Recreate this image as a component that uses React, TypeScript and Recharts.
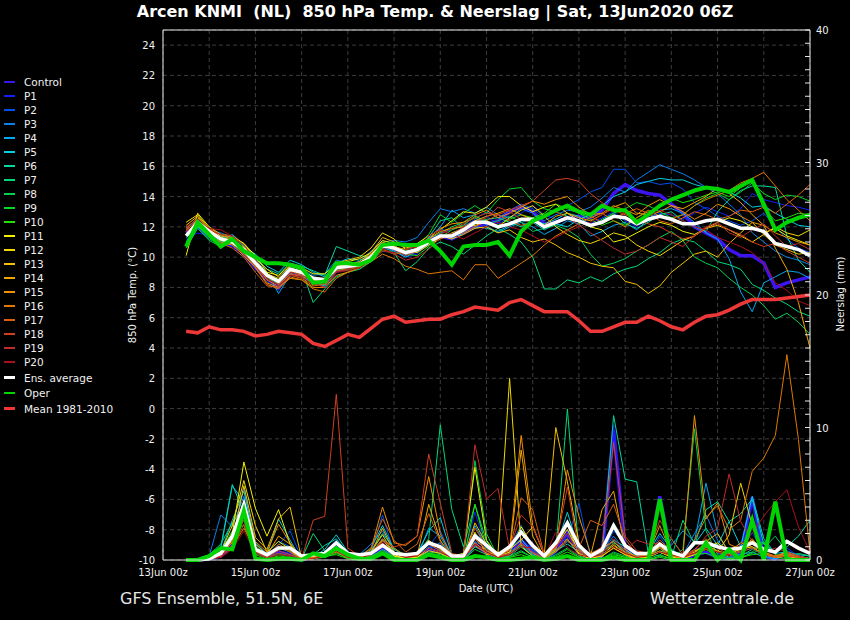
import { CartesianGrid, ComposedChart, Line, ReferenceLine, XAxis, YAxis } from "recharts";

// forecast steps in hours after 13Jun 00z (GFS run 13Jun2020 06Z, 6-hourly)
const HOURS = [
  12, 18, 24, 30, 36, 42, 48, 54, 60, 66, 72, 78, 84, 90, 96, 102, 108, 114, 120, 126,
  132, 138, 144, 150, 156, 162, 168, 174, 180, 186, 192, 198, 204, 210, 216, 222, 228, 234, 240, 246,
  252, 258, 264, 270, 276, 282, 288, 294, 300, 306, 312, 318, 324, 330, 336,
];
const X_TICKS = [0, 24, 48, 72, 96, 120, 144, 168, 192, 216, 240, 264, 288, 312, 336];
const DATE_LABELS = ["13Jun 00z", "15Jun 00z", "17Jun 00z", "19Jun 00z", "21Jun 00z", "23Jun 00z", "25Jun 00z", "27Jun 00z"];
const TEMP_TICKS = [-10, -8, -6, -4, -2, 0, 2, 4, 6, 8, 10, 12, 14, 16, 18, 20, 22, 24];
const RAIN_TICKS = [
  0, 1, 2, 3, 4, 5, 6, 7, 8, 9, 10, 11, 12, 13, 14, 15, 16, 17, 18, 19, 20,
  21, 22, 23, 24, 25, 26, 27, 28, 29, 30, 31, 32, 33, 34, 35, 36, 37, 38, 39, 40,
];

// 850 hPa temperature (°C)
const T_CONTROL = [11.6, 12.0, 11.4, 11.0, 10.8, 10.3, 9.3, 8.6, 8.0, 8.9, 8.8, 8.4, 8.1, 9.1, 9.3, 9.5, 10.0, 10.7, 10.5, 10.2, 10.4, 11.2, 11.4, 11.2, 11.6, 12.0, 12.2, 12.4, 13.0, 13.3, 13.0, 12.2, 12.3, 12.6, 12.7, 12.6, 13.1, 14.2, 14.8, 14.4, 14.2, 14.1, 13.5, 12.9, 12.0, 11.6, 11.2, 10.5, 10.1, 10.1, 9.6, 8.0, 8.3, 8.5, 8.7];
const T_P1 = [11.2, 11.6, 11.4, 10.9, 10.7, 10.0, 9.2, 8.4, 7.8, 8.9, 8.8, 8.3, 8.2, 9.0, 9.2, 9.4, 9.8, 10.6, 10.4, 10.0, 10.2, 10.9, 11.6, 11.8, 12.1, 12.4, 12.7, 12.2, 12.6, 12.9, 13.4, 12.8, 12.5, 12.9, 12.6, 12.2, 12.6, 13.0, 12.4, 12.0, 12.6, 12.9, 12.8, 12.5, 12.9, 13.3, 13.0, 12.7, 13.2, 14.2, 13.8, 13.6, 13.4, 13.3, 13.1];
const T_P2 = [11.6, 12.0, 11.5, 11.3, 11.2, 10.6, 9.5, 8.6, 8.2, 9.0, 8.9, 8.5, 8.3, 9.2, 9.3, 9.6, 10.1, 10.9, 10.5, 10.1, 10.6, 11.3, 11.9, 11.5, 12.0, 12.5, 13.0, 12.6, 13.1, 13.5, 13.2, 12.6, 13.0, 13.4, 13.8, 14.3, 14.6, 15.8, 15.8, 14.9, 15.0, 14.8, 14.9, 14.5, 13.6, 13.2, 12.7, 12.4, 12.1, 12.4, 12.9, 12.0, 11.2, 10.6, 10.3];
const T_P3 = [11.9, 12.5, 11.8, 11.6, 11.3, 10.9, 9.9, 8.9, 8.5, 9.4, 9.2, 8.8, 8.9, 9.8, 9.6, 9.7, 10.4, 11.0, 11.1, 11.0, 11.3, 12.3, 13.2, 13.0, 13.2, 12.9, 13.3, 12.8, 12.6, 13.2, 12.9, 12.4, 12.8, 13.1, 13.0, 13.3, 13.9, 14.6, 14.3, 15.1, 15.6, 16.1, 15.8, 15.5, 15.1, 14.6, 14.2, 13.5, 12.8, 11.6, 11.0, 10.4, 10.0, 9.8, 9.5];
const T_P4 = [11.5, 12.2, 11.6, 11.0, 11.5, 10.8, 9.8, 9.0, 7.6, 8.8, 8.7, 8.3, 8.1, 9.4, 9.5, 9.6, 10.2, 10.9, 10.7, 10.4, 10.6, 11.2, 12.0, 13.1, 12.6, 12.8, 12.1, 11.6, 12.0, 12.3, 12.0, 11.5, 11.9, 12.4, 12.2, 11.4, 11.7, 12.1, 12.3, 11.8, 12.5, 13.1, 13.2, 12.9, 12.3, 11.6, 11.2, 9.9, 7.7, 6.4, 8.3, 8.7, 9.1, 9.0, 8.6];
const T_P5 = [11.3, 12.0, 11.7, 11.4, 11.1, 10.7, 10.2, 9.4, 9.0, 9.8, 9.5, 9.0, 8.7, 9.6, 9.9, 9.8, 10.1, 10.8, 10.4, 10.0, 10.4, 10.8, 11.5, 11.2, 11.6, 12.0, 11.9, 11.7, 12.1, 12.4, 12.3, 11.8, 12.2, 12.0, 12.5, 12.8, 13.4, 14.0, 14.3, 14.8, 15.0, 15.2, 15.1, 15.1, 14.8, 14.6, 14.4, 14.3, 13.9, 13.3, 13.4, 12.9, 12.5, 12.1, 12.0];
const T_P6 = [11.0, 12.1, 11.6, 11.3, 11.2, 10.8, 10.0, 9.2, 8.9, 9.6, 9.4, 9.1, 8.8, 10.7, 10.4, 10.1, 10.0, 10.6, 10.8, 10.2, 10.6, 11.3, 12.4, 12.6, 11.9, 12.2, 12.5, 12.6, 12.3, 12.0, 12.4, 12.2, 12.5, 12.9, 12.7, 12.0, 12.5, 12.9, 12.2, 11.9, 12.3, 12.8, 13.0, 12.4, 12.0, 11.7, 13.0, 13.8, 14.4, 14.7, 14.7, 14.6, 11.4, 9.8, 9.0];
const T_P7 = [10.8, 12.0, 11.2, 10.8, 10.9, 10.2, 9.6, 8.8, 8.2, 8.9, 9.2, 7.0, 7.9, 8.7, 9.0, 9.2, 9.7, 10.4, 10.3, 9.1, 9.7, 10.6, 11.0, 10.7, 10.2, 10.8, 11.4, 11.9, 11.5, 11.0, 10.0, 7.9, 7.9, 8.5, 8.3, 8.7, 8.4, 8.9, 9.2, 9.4, 9.9, 10.3, 10.9, 11.2, 11.0, 10.4, 9.7, 9.5, 9.2, 8.2, 7.8, 7.3, 6.9, 6.4, 6.1];
const T_P8 = [10.6, 11.9, 11.1, 10.7, 11.0, 10.4, 9.7, 8.7, 8.4, 9.2, 9.0, 8.4, 8.1, 9.1, 9.3, 9.5, 10.0, 10.7, 10.3, 10.4, 10.3, 11.2, 11.6, 12.0, 12.3, 12.6, 12.2, 12.4, 12.7, 12.3, 11.7, 11.9, 12.1, 11.8, 11.3, 10.2, 9.4, 9.6, 9.9, 10.4, 10.8, 11.3, 11.7, 11.1, 10.0, 9.6, 9.3, 8.6, 8.0, 7.5, 6.8, 5.9, 6.3, 5.7, 4.9];
const T_P9 = [10.9, 12.2, 11.5, 10.9, 11.2, 10.6, 9.7, 8.9, 8.5, 9.3, 9.1, 8.7, 8.4, 9.2, 9.5, 9.6, 10.1, 10.9, 10.6, 10.5, 10.8, 11.5, 12.8, 12.3, 12.9, 13.4, 12.9, 13.8, 14.5, 14.6, 13.7, 13.2, 13.0, 12.7, 12.3, 12.0, 12.4, 12.9, 13.2, 13.6, 13.4, 13.0, 12.6, 12.8, 13.4, 13.9, 14.2, 13.8, 14.3, 14.9, 14.2, 13.8, 14.1, 14.0, 13.7];
const T_P10 = [10.7, 12.1, 11.3, 11.1, 10.8, 10.3, 9.4, 8.6, 8.3, 9.1, 8.9, 8.5, 8.3, 9.3, 9.1, 9.4, 9.9, 10.6, 10.8, 10.2, 10.1, 10.7, 11.3, 11.8, 12.1, 12.7, 12.4, 12.1, 12.5, 12.8, 12.6, 12.9, 13.5, 13.2, 12.9, 12.5, 12.1, 12.4, 12.1, 12.6, 13.0, 13.3, 13.9, 13.6, 13.8, 14.1, 14.3, 14.0, 14.6, 15.0, 13.2, 12.4, 12.6, 12.9, 12.8];
const T_P11 = [10.1, 12.9, 12.0, 11.5, 11.4, 10.9, 10.1, 9.0, 8.8, 9.5, 9.3, 8.9, 8.9, 9.5, 9.7, 9.9, 10.3, 11.1, 10.9, 10.7, 10.9, 11.4, 11.8, 12.4, 13.0, 12.9, 13.3, 14.0, 14.0, 13.4, 13.0, 13.3, 13.5, 12.9, 12.4, 12.0, 11.8, 11.0, 11.2, 11.6, 12.0, 12.3, 12.1, 11.7, 11.5, 11.9, 12.3, 12.6, 12.4, 12.0, 11.6, 11.9, 11.4, 11.1, 10.8];
const T_P12 = [12.3, 12.8, 11.9, 11.4, 11.3, 10.9, 9.9, 9.2, 8.7, 9.4, 9.2, 8.6, 8.6, 9.6, 9.8, 10.0, 10.6, 11.6, 11.2, 10.5, 10.3, 10.8, 11.2, 11.6, 11.9, 12.1, 12.3, 12.0, 12.6, 13.1, 13.4, 12.7, 12.0, 11.5, 11.1, 10.9, 11.2, 11.6, 11.4, 10.8, 10.4, 10.1, 10.6, 11.1, 11.4, 11.9, 12.1, 11.8, 11.4, 11.0, 11.5, 12.0, 11.6, 11.4, 11.8];
const T_P13 = [12.1, 12.7, 11.8, 11.3, 11.1, 10.7, 9.8, 8.9, 8.6, 9.1, 8.8, 8.4, 8.6, 9.4, 9.5, 9.7, 10.3, 11.3, 11.0, 10.6, 10.8, 11.1, 11.4, 11.2, 11.5, 11.9, 12.0, 11.6, 11.8, 11.3, 11.0, 11.2, 10.8, 10.3, 10.0, 9.6, 9.4, 9.3, 8.4, 8.2, 7.6, 8.1, 9.0, 9.6, 10.2, 10.4, 10.0, 10.9, 11.6, 12.3, 11.5, 10.8, 10.5, 10.2, 10.3];
const T_P14 = [11.8, 12.4, 11.6, 11.2, 11.0, 10.4, 9.5, 8.5, 8.1, 8.9, 8.7, 8.2, 8.3, 9.3, 9.4, 9.6, 10.2, 11.0, 10.7, 10.5, 10.7, 11.2, 11.7, 11.9, 12.0, 12.4, 12.7, 12.9, 13.2, 12.8, 12.5, 12.1, 12.7, 12.9, 12.6, 12.4, 12.8, 13.3, 13.6, 12.9, 12.8, 13.0, 13.4, 13.2, 13.6, 14.0, 14.6, 14.2, 13.6, 12.8, 12.1, 10.6, 9.2, 7.0, 4.0];
const T_P15 = [11.7, 12.5, 11.4, 11.0, 10.8, 10.1, 9.3, 8.3, 8.0, 8.6, 8.5, 8.0, 8.0, 8.8, 9.0, 9.3, 9.9, 10.7, 10.6, 10.3, 10.6, 11.2, 11.9, 12.2, 12.3, 12.8, 13.1, 12.6, 12.9, 13.3, 13.7, 13.5, 13.8, 14.0, 13.3, 12.8, 12.9, 13.4, 13.1, 12.8, 13.4, 13.8, 13.4, 13.0, 12.5, 12.9, 13.5, 13.2, 12.7, 12.3, 12.1, 11.6, 11.3, 11.0, 10.8];
const T_P16 = [11.9, 12.6, 11.9, 11.5, 11.1, 10.3, 9.3, 8.2, 7.9, 8.7, 8.5, 7.9, 7.7, 8.6, 9.0, 9.3, 9.7, 10.2, 9.9, 9.4, 9.2, 8.9, 9.0, 9.1, 8.5, 9.5, 9.5, 8.6, 9.1, 9.6, 10.1, 10.8, 11.4, 11.8, 12.2, 12.6, 12.9, 12.4, 12.0, 12.6, 13.1, 12.7, 12.5, 12.8, 13.4, 13.8, 14.1, 14.4, 14.9, 15.2, 15.6, 14.7, 13.8, 13.1, 12.4];
const T_P17 = [11.5, 12.3, 11.6, 10.9, 10.6, 10.0, 9.0, 8.1, 8.0, 8.8, 8.6, 8.1, 8.2, 9.1, 9.2, 9.4, 9.8, 10.5, 10.2, 10.3, 10.5, 11.0, 11.2, 11.5, 11.6, 12.0, 12.4, 12.8, 12.4, 12.1, 12.3, 12.6, 13.1, 13.4, 13.0, 12.7, 12.3, 12.6, 12.9, 13.2, 12.9, 12.4, 12.2, 12.6, 13.0, 12.8, 12.5, 12.7, 13.1, 13.0, 13.3, 12.9, 13.5, 14.1, 14.8];
const T_P18 = [11.8, 12.4, 11.9, 11.3, 10.8, 10.2, 9.4, 8.5, 8.2, 8.9, 8.8, 8.4, 8.5, 9.2, 9.3, 9.5, 10.0, 10.7, 10.5, 10.1, 10.4, 11.0, 11.5, 11.9, 12.2, 12.6, 12.9, 12.8, 13.1, 13.4, 13.7, 14.4, 15.1, 15.2, 15.0, 14.2, 13.6, 13.1, 12.8, 12.5, 12.2, 12.0, 11.6, 11.2, 11.4, 11.9, 12.2, 11.8, 11.5, 11.0, 10.7, 10.9, 10.4, 10.0, 9.6];
const T_P19 = [12.0, 12.5, 11.8, 11.5, 11.4, 10.8, 9.8, 8.7, 8.3, 9.0, 8.9, 8.3, 8.0, 9.0, 9.2, 9.4, 9.9, 10.6, 10.2, 9.8, 10.0, 10.5, 11.3, 11.5, 12.0, 12.3, 12.6, 13.3, 13.0, 12.5, 12.2, 12.8, 13.0, 12.6, 12.1, 11.6, 11.1, 10.6, 10.2, 10.4, 10.8, 11.3, 11.0, 10.7, 11.4, 12.0, 12.3, 11.6, 11.3, 11.8, 12.2, 11.4, 10.7, 10.9, 10.5];
const T_P20 = [11.7, 12.2, 11.9, 11.8, 11.4, 10.6, 9.5, 8.6, 8.1, 8.8, 8.7, 8.2, 8.3, 9.0, 9.1, 9.3, 9.8, 10.4, 10.3, 10.5, 10.7, 11.4, 11.8, 11.5, 11.2, 11.6, 12.0, 12.3, 12.0, 11.8, 11.4, 11.0, 11.3, 11.7, 12.0, 12.3, 12.8, 13.2, 12.9, 12.4, 12.7, 13.1, 12.8, 12.4, 12.0, 11.8, 11.3, 11.0, 10.7, 10.3, 9.6, 8.3, 7.8, 7.1, 6.8];
const T_AVERAGE = [11.4, 12.3, 11.7, 11.2, 11.0, 10.5, 9.6, 8.8, 8.4, 9.2, 9.0, 8.6, 8.5, 9.3, 9.4, 9.5, 10.0, 10.8, 10.6, 10.3, 10.5, 11.0, 11.4, 11.4, 11.8, 12.3, 12.3, 12.0, 12.2, 12.5, 12.5, 12.0, 12.3, 12.6, 12.4, 12.1, 12.3, 12.7, 12.6, 12.2, 12.5, 12.7, 12.5, 12.2, 12.2, 12.4, 12.5, 12.2, 11.9, 11.9, 11.7, 10.9, 10.7, 10.5, 10.1];
const T_OPER = [10.7, 12.3, 11.5, 10.7, 11.2, 10.4, 10.0, 9.6, 9.6, 9.5, 9.3, 8.3, 8.4, 9.6, 9.6, 9.5, 9.8, 10.8, 10.9, 10.8, 10.8, 11.1, 10.4, 9.5, 10.7, 10.8, 10.8, 11.0, 10.1, 11.7, 12.4, 12.7, 13.1, 13.4, 13.0, 12.8, 13.4, 13.1, 13.1, 12.3, 12.8, 13.4, 13.8, 14.1, 14.4, 14.6, 14.5, 14.3, 14.7, 15.1, 13.5, 11.8, 12.3, 12.6, 12.8];
const T_MEAN_8110 = [5.1, 5.0, 5.4, 5.2, 5.2, 5.1, 4.8, 4.9, 5.1, 5.0, 4.9, 4.3, 4.1, 4.5, 4.9, 4.7, 5.3, 5.9, 6.1, 5.7, 5.8, 5.9, 5.9, 6.2, 6.4, 6.7, 6.6, 6.5, 7.0, 7.2, 6.8, 6.4, 6.4, 6.4, 5.8, 5.1, 5.1, 5.4, 5.7, 5.7, 6.1, 5.8, 5.4, 5.2, 5.7, 6.1, 6.2, 6.5, 6.9, 7.2, 7.2, 7.2, 7.3, 7.4, 7.5];

// precipitation per 6h (mm), right axis
const R_CONTROL = [0, 0, 0.1, 0.3, 1.2, 3.9, 0.6, 0.2, 0.6, 0.4, 0, 0.2, 0.4, 0.8, 0.3, 0.2, 0.3, 0.9, 0.2, 0.1, 0.2, 0.8, 0.6, 0.1, 0, 1.2, 0.5, 0.1, 0.4, 1.5, 0.6, 0, 0.8, 2.0, 0.7, 0, 0.3, 9.8, 0.9, 0.2, 0.1, 4.8, 0.3, 0, 0.4, 0.6, 0.2, 0.1, 0.5, 4.7, 0.3, 0.1, 0.5, 0.2, 0];
const R_P1 = [0, 0, 0, 0.4, 1.8, 3.2, 0.5, 0.1, 0.7, 0.5, 0, 0.1, 0.3, 1.1, 0.2, 0.1, 0.4, 1.3, 0.3, 0, 0.1, 1.0, 0.8, 0, 0.1, 3.6, 0.8, 0, 0.3, 1.4, 0.2, 0, 0.5, 1.6, 0.3, 0, 0.2, 10.2, 0.6, 0, 0.2, 1.1, 0.2, 0, 0.8, 1.0, 0.3, 0.1, 0.6, 2.1, 0.4, 0, 0.9, 0.3, 0.1];
const R_P2 = [0, 0, 0.2, 0.5, 1.4, 5.5, 0.9, 0.3, 1.1, 2.2, 0.1, 0.2, 0.6, 1.5, 0.4, 0.3, 0.6, 3.4, 0.5, 0.2, 0.3, 1.0, 2.2, 0.3, 0.1, 2.0, 1.3, 0.2, 0.5, 2.3, 0.7, 0.1, 1.2, 1.6, 4.3, 0.2, 0.4, 2.2, 1.2, 0.3, 0.2, 1.8, 0.4, 0.1, 0.6, 1.2, 0.5, 0.2, 0.8, 4.8, 0.5, 0.2, 0.7, 0.3, 0.1];
const R_P3 = [0, 0, 0.3, 3.4, 2.5, 4.8, 1.2, 0.5, 1.4, 1.0, 0, 0.3, 0.5, 1.3, 0.5, 0.4, 1.2, 2.2, 0.6, 0.2, 0.4, 0.9, 1.3, 0.2, 0, 1.4, 0.9, 0.3, 1.0, 2.6, 0.8, 0.2, 1.5, 2.3, 0.5, 0.1, 0.6, 1.8, 0.7, 0.2, 0.5, 0.9, 0.2, 0.4, 2.0, 3.4, 1.5, 0.4, 0.6, 0.9, 0.3, 0.1, 0.4, 0.2, 0.1];
const R_P4 = [0, 0, 0.1, 0.8, 5.6, 4.4, 0.7, 0.2, 0.9, 0.6, 0, 0.1, 0.4, 0.9, 0.2, 0.2, 0.5, 1.6, 0.4, 0.1, 0.2, 2.4, 1.8, 0.2, 0, 2.6, 1.0, 0.2, 0.6, 1.2, 0.4, 0, 0.6, 1.4, 0.9, 0.2, 0.8, 1.4, 0.5, 0.1, 0.3, 0.6, 1.1, 2.2, 1.4, 5.8, 2.0, 0.5, 0.4, 0.6, 0.2, 0.1, 0.3, 0.1, 0];
const R_P5 = [0, 0, 0.2, 0.6, 3.0, 5.2, 1.3, 0.4, 3.1, 1.5, 0, 0.2, 0.8, 1.9, 0.6, 0.3, 0.9, 2.6, 0.8, 0.3, 0.5, 2.2, 3.2, 0.4, 0.1, 2.0, 1.1, 0.4, 0.8, 1.6, 0.5, 0.1, 0.9, 3.6, 0.8, 0.2, 0.5, 1.5, 1.0, 0.3, 0.6, 2.0, 0.8, 0.3, 1.2, 2.4, 1.1, 2.9, 1.0, 4.8, 1.6, 0.5, 0.6, 0.4, 0.3];
const R_P6 = [0, 0, 0.3, 1.0, 5.7, 3.6, 0.8, 0.3, 1.0, 0.7, 0, 0.4, 1.1, 1.6, 0.5, 0.2, 0.7, 2.0, 0.9, 0.3, 0.4, 1.3, 0.9, 0.2, 0, 1.0, 0.6, 0.1, 0.3, 1.0, 0.3, 0, 0.7, 1.2, 0.6, 0.1, 0.4, 10.9, 6.1, 5.9, 0.5, 0.3, 1.6, 0.4, 1.1, 3.8, 4.4, 2.9, 3.5, 4.6, 1.2, 0.6, 1.0, 1.8, 3.0];
const R_P7 = [0, 0.1, 0.4, 1.2, 2.8, 4.0, 1.0, 0.4, 0.8, 0.9, 0.1, 2.0, 0.7, 0.7, 0.2, 0.1, 0.5, 1.2, 0.8, 0.4, 0.5, 1.6, 10.2, 3.8, 1.0, 4.2, 1.4, 0.3, 0.4, 1.1, 0.3, 0.1, 0.8, 11.4, 0.6, 0, 0.2, 1.3, 0.8, 0.2, 0.2, 0.9, 0.2, 3.0, 1.2, 1.5, 0.6, 0.2, 0.3, 0.8, 1.4, 0.4, 0.2, 0.5, 0.3];
const R_P8 = [0, 0, 0.2, 0.7, 2.0, 3.0, 0.5, 0.2, 0.5, 0.3, 0, 0.1, 0.3, 0.6, 0.1, 0, 0.2, 0.8, 0.3, 0.1, 0.2, 0.6, 0.5, 0.1, 0, 7.5, 2.0, 0.2, 0.3, 0.7, 0.2, 0, 0.4, 0.9, 0.3, 0, 0.1, 0.6, 0.3, 0, 0.1, 0.4, 0.1, 0.8, 9.9, 2.2, 0.4, 0.1, 0.2, 0.5, 0.9, 1.8, 0.6, 0.3, 0.1];
const R_P9 = [0, 0, 0.1, 0.5, 1.6, 4.2, 0.6, 0.1, 0.4, 0.3, 0, 0.1, 0.2, 0.5, 0.2, 0.1, 0.3, 0.7, 0.2, 0, 0.1, 0.5, 0.4, 0.1, 0, 0.8, 0.4, 0, 0.2, 0.6, 0.2, 0, 0.3, 0.8, 0.2, 0, 0.1, 0.5, 0.2, 0, 0, 0.2, 0, 0.1, 0.4, 0.5, 0.2, 0, 0.1, 0.6, 1.3, 0.4, 0.2, 0.1, 0];
const R_P10 = [0, 0, 0.2, 0.6, 2.2, 2.6, 0.4, 0.1, 0.3, 0.2, 0, 0.1, 0.3, 0.4, 0.1, 0, 0.2, 0.6, 0.2, 0, 0.1, 0.4, 0.3, 0, 0, 4.2, 0.9, 0.1, 0.2, 0.4, 0.1, 0, 0.2, 0.6, 0.2, 0, 0.1, 0.4, 0.2, 0, 0, 0.3, 0.1, 0.2, 0.5, 0.8, 0.3, 0.1, 0.2, 0.4, 0.5, 0.2, 0.1, 0.1, 0];
const R_P11 = [0, 0, 0.1, 0.5, 2.0, 7.4, 3.9, 1.8, 3.8, 1.2, 0, 0.2, 0.4, 0.9, 0.3, 0.1, 0.4, 1.1, 0.3, 0.1, 0.2, 0.9, 0.6, 0.3, 0.5, 7.0, 1.5, 0.3, 0.6, 2.5, 1.1, 0.2, 1.4, 2.7, 0.4, 0.1, 0.4, 1.1, 0.5, 0.1, 0.2, 0.6, 0.2, 0.1, 0.4, 0.9, 1.3, 0.5, 0.8, 1.0, 0.4, 0.2, 0.3, 0.2, 0.1];
const R_P12 = [0, 0, 0.2, 0.6, 2.6, 6.0, 2.6, 0.6, 1.4, 0.8, 0, 0.1, 0.3, 1.0, 0.2, 0.1, 0.6, 1.9, 0.4, 0.1, 0.2, 0.7, 0.5, 0.1, 0.2, 2.1, 0.4, 0.6, 13.7, 1.0, 0.3, 0.1, 1.0, 2.3, 0.5, 0.1, 0.3, 0.9, 0.4, 0, 0.1, 1.3, 0.5, 0.2, 0.7, 1.0, 0.6, 1.9, 5.8, 2.6, 0.5, 0.2, 0.3, 0.1, 0];
const R_P13 = [0, 0, 0.1, 0.4, 1.5, 5.6, 1.7, 0.8, 3.1, 4.0, 0.1, 0.2, 0.5, 0.8, 0.3, 0.2, 0.4, 1.5, 0.5, 0.2, 0.3, 1.5, 0.8, 0.2, 0.1, 2.8, 1.2, 0.5, 0.8, 1.5, 2.5, 0.4, 10.0, 5.9, 1.3, 0.2, 0.3, 0.9, 0.4, 0.1, 0.3, 1.0, 0.4, 0.2, 0.6, 1.1, 0.7, 0.4, 0.9, 1.5, 0.6, 0.2, 0.4, 0.1, 0];
const R_P14 = [0, 0, 0.1, 0.3, 1.1, 3.5, 1.2, 0.4, 1.8, 1.2, 0, 0.1, 0.3, 0.7, 0.2, 0.1, 0.5, 2.4, 0.6, 0.2, 0.3, 4.2, 1.5, 0.2, 0.1, 1.6, 0.7, 0.3, 0.5, 8.3, 1.8, 0.2, 0.7, 1.6, 0.4, 0.3, 3.8, 5.2, 0.8, 0.2, 0.3, 0.7, 0.3, 0.1, 0.5, 1.4, 2.0, 0.6, 1.3, 1.0, 0.4, 0.3, 0.6, 0.3, 0.1];
const R_P15 = [0, 0, 0.2, 0.5, 1.3, 4.5, 1.4, 0.6, 2.7, 1.3, 0.1, 0.2, 0.4, 0.9, 0.3, 0.2, 0.8, 4.0, 1.3, 1.1, 1.8, 6.3, 2.0, 0.3, 0.1, 1.3, 0.6, 0.2, 0.8, 9.4, 2.6, 0.4, 0.8, 6.8, 3.3, 0.5, 0.9, 1.4, 0.6, 0.2, 0.4, 2.6, 0.5, 0.3, 10.9, 3.1, 4.3, 1.2, 0.8, 1.6, 0.6, 0.3, 0.5, 0.2, 0.1];
const R_P16 = [0, 0, 0.1, 0.4, 1.0, 2.4, 0.8, 0.3, 1.2, 0.7, 0, 0.2, 0.3, 0.6, 0.2, 0.1, 0.4, 1.6, 0.9, 0.3, 0.4, 1.2, 0.7, 0.2, 0.1, 1.1, 0.5, 0.2, 0.4, 1.3, 0.5, 0.1, 0.6, 1.5, 0.7, 0.3, 0.6, 1.2, 0.5, 0.3, 0.4, 0.9, 0.3, 0.2, 1.5, 3.2, 4.1, 2.3, 3.0, 6.7, 7.7, 9.4, 15.5, 9.1, 0.5];
const R_P17 = [0, 0, 0.1, 0.3, 1.4, 3.3, 0.9, 0.3, 1.0, 0.6, 0, 0.3, 0.6, 1.2, 0.4, 0.2, 0.9, 3.1, 1.5, 0.6, 1.2, 3.5, 1.4, 0.3, 0.2, 2.4, 1.0, 0.4, 0.7, 4.7, 3.8, 0.4, 0.9, 2.6, 0.9, 3.0, 2.6, 4.2, 1.6, 0.4, 0.6, 1.5, 0.7, 0.3, 0.8, 1.6, 0.9, 0.4, 0.7, 1.2, 0.5, 0.3, 0.4, 0.2, 0.1];
const R_P18 = [0, 0, 0.1, 0.2, 0.9, 2.7, 0.6, 0.2, 0.7, 0.4, 0.1, 3.0, 3.3, 12.5, 0.9, 0.3, 0.6, 1.4, 1.0, 1.2, 1.8, 8.0, 4.3, 0.5, 0.3, 1.6, 0.8, 0.3, 0.5, 1.2, 0.6, 0.2, 1.1, 5.5, 0.8, 0.4, 1.0, 8.9, 1.8, 0.7, 0.5, 3.0, 1.6, 0.4, 0.5, 0.8, 0.6, 0.3, 0.6, 0.9, 0.4, 0.2, 0.3, 0.2, 0.1];
const R_P19 = [0, 0, 0.1, 0.3, 1.1, 3.0, 0.7, 0.2, 0.5, 0.3, 0, 0.1, 0.4, 0.9, 0.3, 0.1, 0.5, 1.3, 0.6, 0.2, 0.4, 1.3, 0.9, 0.3, 0.2, 8.7, 4.6, 5.4, 0.8, 3.4, 2.5, 0.5, 1.0, 2.0, 0.6, 0.2, 0.5, 1.6, 0.7, 1.5, 1.2, 1.3, 0.5, 0.2, 0.7, 1.8, 2.4, 6.5, 2.9, 1.4, 0.6, 0.9, 0.6, 0.3, 0.1];
const R_P20 = [0, 0, 0.1, 0.2, 0.8, 2.2, 0.5, 0.1, 0.4, 0.3, 0, 0.1, 0.3, 0.7, 0.2, 0.1, 0.4, 1.0, 0.5, 0.2, 0.3, 0.9, 0.6, 0.2, 0.1, 1.2, 0.6, 0.2, 0.4, 1.0, 0.9, 0.2, 2.1, 0.9, 0.4, 0.2, 0.4, 1.0, 0.5, 0.2, 0.3, 0.6, 0.4, 0.2, 0.5, 0.9, 0.6, 0.4, 1.2, 2.0, 3.3, 4.4, 5.3, 2.5, 0.6];
const R_AVERAGE = [0, 0, 0.1, 0.5, 1.8, 4.2, 0.8, 0.4, 0.9, 0.9, 0.3, 0.4, 0.5, 1.3, 0.5, 0.4, 0.5, 1.1, 0.5, 0.4, 0.5, 1.3, 1.0, 0.3, 0.3, 1.8, 1.1, 0.4, 1.0, 2.1, 1.1, 0.3, 1.3, 2.8, 1.1, 0.3, 0.8, 2.6, 1.1, 0.5, 0.5, 1.2, 0.6, 0.3, 1.3, 1.3, 1.0, 0.8, 0.9, 1.3, 0.8, 0.6, 1.4, 0.9, 0.5];
const R_OPER = [0, 0, 0.3, 0.9, 0.8, 3.7, 0.1, 0, 0.1, 0.1, 0, 0.5, 0.3, 0.9, 0.4, 0.1, 0.1, 0.5, 0, 0, 0, 0.4, 0.2, 0, 0, 0.3, 0.2, 0, 0, 0.1, 0.2, 0, 0.1, 0.3, 0, 0, 0, 0.2, 0, 0, 0, 4.6, 0, 0, 0, 1.3, 0, 0.8, 0, 3.0, 0, 4.4, 0, 0, 0];

const SERIES = [
  { name: "Control", color: "#3c14f0", width: 3.5, temp: T_CONTROL, rain: R_CONTROL },
  { name: "P1", color: "#1020ff", width: 1, temp: T_P1, rain: R_P1 },
  { name: "P2", color: "#0050f0", width: 1, temp: T_P2, rain: R_P2 },
  { name: "P3", color: "#0a80e8", width: 1, temp: T_P3, rain: R_P3 },
  { name: "P4", color: "#00a8f0", width: 1, temp: T_P4, rain: R_P4 },
  { name: "P5", color: "#00d0e0", width: 1, temp: T_P5, rain: R_P5 },
  { name: "P6", color: "#00d8a0", width: 1, temp: T_P6, rain: R_P6 },
  { name: "P7", color: "#00d878", width: 1, temp: T_P7, rain: R_P7 },
  { name: "P8", color: "#00d050", width: 1, temp: T_P8, rain: R_P8 },
  { name: "P9", color: "#00d828", width: 1, temp: T_P9, rain: R_P9 },
  { name: "P10", color: "#20e000", width: 1, temp: T_P10, rain: R_P10 },
  { name: "P11", color: "#f0f000", width: 1, temp: T_P11, rain: R_P11 },
  { name: "P12", color: "#f0d800", width: 1, temp: T_P12, rain: R_P12 },
  { name: "P13", color: "#f0c000", width: 1, temp: T_P13, rain: R_P13 },
  { name: "P14", color: "#f0a800", width: 1, temp: T_P14, rain: R_P14 },
  { name: "P15", color: "#f09000", width: 1, temp: T_P15, rain: R_P15 },
  { name: "P16", color: "#e07800", width: 1, temp: T_P16, rain: R_P16 },
  { name: "P17", color: "#d86010", width: 1, temp: T_P17, rain: R_P17 },
  { name: "P18", color: "#d04020", width: 1, temp: T_P18, rain: R_P18 },
  { name: "P19", color: "#c02c28", width: 1, temp: T_P19, rain: R_P19 },
  { name: "P20", color: "#a81020", width: 1, temp: T_P20, rain: R_P20 },
  { name: "Ens. average", color: "#ffffff", width: 3.5, temp: T_AVERAGE, rain: R_AVERAGE },
  { name: "Oper", color: "#00d400", width: 4, temp: T_OPER, rain: R_OPER },
  { name: "Mean 1981-2010", color: "#ee3838", width: 3.5, temp: T_MEAN_8110, rain: null as number[] | null },
];

const rows = HOURS.map((h, i) => {
  const row: Record<string, number> = { h };
  SERIES.forEach((s, k) => {
    row[`t${k}`] = s.temp[i];
    if (s.rain) row[`r${k}`] = s.rain[i];
  });
  return row;
});

const FRAME = "#e8e8e8";
const TEXT = "#f0f0f0";

function DateTick({ x, y, payload }: any) {
  const i = X_TICKS.indexOf(payload.value);
  if (i % 2 !== 0) return <g />;
  return (
    <text x={x} y={y} dy={8} textAnchor="middle" fill={TEXT} fontSize={10}>
      {DATE_LABELS[i / 2]}
    </text>
  );
}

function TempTick({ x, y, payload }: any) {
  return (
    <text x={x} y={y} dy={4} textAnchor="end" fill={TEXT} fontSize={10}>
      {payload.value}
    </text>
  );
}

// minor ticks every mm point inwards, numbers only every 10 mm
function RainTick({ x, y, payload }: any) {
  const axisX = x - 6;
  return (
    <g>
      <line x1={axisX - 5} x2={axisX} y1={y} y2={y} stroke={FRAME} />
      {payload.value % 10 === 0 && (
        <text x={x} y={y} dy={4} textAnchor="start" fill={TEXT} fontSize={10}>
          {payload.value}
        </text>
      )}
    </g>
  );
}

export default function App() {
  return (
    <div
      style={{
        position: "relative",
        width: 850,
        height: 620,
        background: "#000",
        color: TEXT,
        fontFamily: "'DejaVu Sans', sans-serif",
      }}
    >
      <style>{"body{margin:0;background:#000}"}</style>
      <ComposedChart width={850} height={620} data={rows} margin={{ top: 30, right: 0, bottom: 30, left: 0 }}>
        <CartesianGrid yAxisId="t" stroke="#3c3c3c" strokeDasharray="4 3" />
        <XAxis
          dataKey="h"
          type="number"
          domain={[0, 336]}
          ticks={X_TICKS}
          interval={0}
          height={30}
          tickSize={0}
          tickMargin={8}
          tickLine={false}
          axisLine={{ stroke: FRAME }}
          tick={<DateTick />}
        />
        <YAxis
          yAxisId="t"
          domain={[-10, 25]}
          ticks={TEMP_TICKS}
          interval={0}
          width={163}
          tickSize={0}
          tickMargin={8}
          tickLine={false}
          axisLine={{ stroke: FRAME }}
          tick={<TempTick />}
        />
        <YAxis
          yAxisId="r"
          orientation="right"
          domain={[0, 40]}
          ticks={RAIN_TICKS}
          interval={0}
          width={40}
          tickSize={0}
          tickMargin={6}
          tickLine={false}
          axisLine={{ stroke: FRAME }}
          tick={<RainTick />}
        />
        <ReferenceLine yAxisId="t" y={25} stroke={FRAME} ifOverflow="visible" />
        {SERIES.map((s, k) =>
          s.rain ? (
            <Line
              key={`r${k}`}
              yAxisId="r"
              dataKey={`r${k}`}
              stroke={s.color}
              strokeWidth={s.width}
              dot={false}
              isAnimationActive={false}
            />
          ) : null
        )}
        {SERIES.map((s, k) => (
          <Line
            key={`t${k}`}
            yAxisId="t"
            dataKey={`t${k}`}
            name={s.name}
            stroke={s.color}
            strokeWidth={s.width}
            dot={false}
            isAnimationActive={false}
          />
        ))}
      </ComposedChart>

      <div
        style={{
          position: "absolute",
          left: 435,
          top: 2,
          transform: "translateX(-50%)",
          whiteSpace: "pre",
          fontWeight: "bold",
          fontSize: 16,
          color: "#fff",
        }}
      >
        {"Arcen KNMI  (NL)  850 hPa Temp. & Neerslag | Sat, 13Jun2020 06Z"}
      </div>

      <div style={{ position: "absolute", left: 0, top: 75, fontSize: 10.5 }}>
        {SERIES.map((s, k) => (
          <div
            key={s.name}
            style={{
              position: "absolute",
              top: k <= 20 ? k * 14 : 20 * 14 + (k - 20) * 15.5,
              left: 0,
              height: 14,
              display: "flex",
              alignItems: "center",
              whiteSpace: "nowrap",
            }}
          >
            <span
              style={{
                display: "inline-block",
                marginLeft: 4,
                width: 11,
                height: s.width > 3 ? 2.5 : 2,
                background: s.color,
              }}
            />
            <span style={{ marginLeft: 9 }}>{s.name}</span>
          </div>
        ))}
      </div>

      <div
        style={{
          position: "absolute",
          left: 132,
          top: 295,
          transform: "translate(-50%, -50%) rotate(-90deg)",
          whiteSpace: "nowrap",
          fontSize: 10,
        }}
      >
        850 hPa Temp. (°C)
      </div>
      <div
        style={{
          position: "absolute",
          left: 840,
          top: 294,
          transform: "translate(-50%, -50%) rotate(-90deg)",
          whiteSpace: "nowrap",
          fontSize: 10,
        }}
      >
        Neerslag (mm)
      </div>
      <div style={{ position: "absolute", left: 486, top: 583, transform: "translateX(-50%)", fontSize: 10 }}>
        Date (UTC)
      </div>
      <div style={{ position: "absolute", left: 120, top: 589, fontSize: 16, color: "#e6e6e6" }}>
        GFS Ensemble, 51.5N, 6E
      </div>
      <div style={{ position: "absolute", left: 650, top: 589, fontSize: 16, color: "#e6e6e6" }}>
        Wetterzentrale.de
      </div>
    </div>
  );
}
